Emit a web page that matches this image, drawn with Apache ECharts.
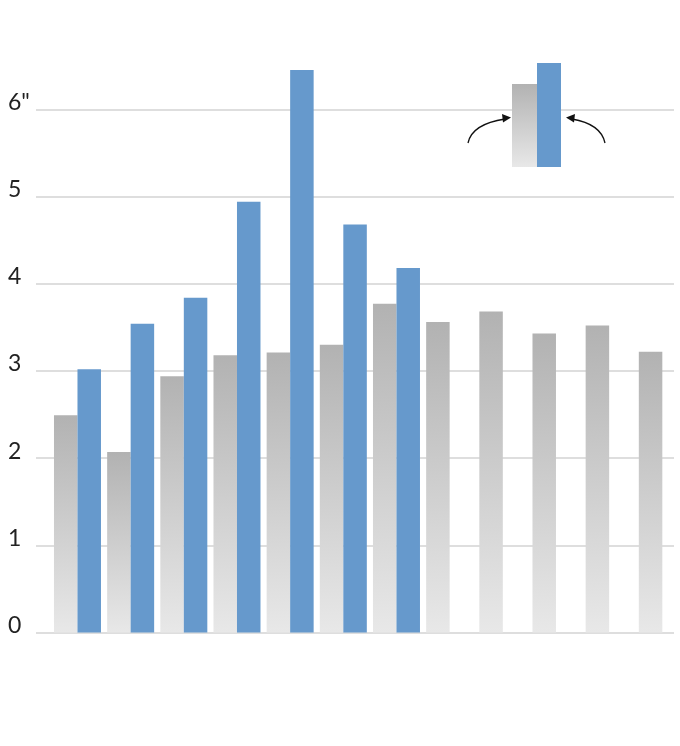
<!DOCTYPE html>
<html>
<head>
<meta charset="utf-8">
<script src="https://cdn.jsdelivr.net/npm/echarts@6/dist/echarts.min.js"></script>
<style>
html,body{margin:0;padding:0;background:#fff;}
#chart{width:680px;height:746px;}
</style>
</head>
<body>
<div id="chart"></div>
<script>
var categories = ['1','2','3','4','5','6','7','8','9','10','11','12'];
var grayValues = [2.49, 2.07, 2.94, 3.18, 3.21, 3.30, 3.77, 3.56, 3.68, 3.43, 3.52, 3.22];
var blueValues = [3.02, 3.54, 3.84, 4.94, 6.45, 4.68, 4.18, null, null, null, null, null];
var spacerValues = [null, null, null, null, null, null, null, null, null, null, null, null];
var yTickLabels = {0:'0', 1:'1', 2:'2', 3:'3', 4:'4', 5:'5', 6:'6"'};

var chart = echarts.init(document.getElementById('chart'), null, {renderer:'canvas'});

function grayGrad(){
  return new echarts.graphic.LinearGradient(0,0,0,1,[
    {offset:0,color:'#b2b2b2'},
    {offset:1,color:'#e8e8e8'}
  ]);
}

var option = {
  backgroundColor:'#ffffff',
  animation:false,
  grid:{left:36, right:6, top:22.1, bottom:113.5, containLabel:false},
  xAxis:{type:'category', data:categories, show:false},
  yAxis:{type:'value', min:0, max:7, interval:1,
     axisLine:{show:false}, axisTick:{show:false},
     axisLabel:{
       showMaxLabel:false,
       align:'left', margin:28, verticalAlign:'bottom',
       lineHeight:14,
       fontFamily:'Lato, "Open Sans", sans-serif', fontSize:23, color:'#222',
       formatter:function(v){ return yTickLabels[v] !== undefined ? yTickLabels[v] : ''; }
     },
     splitLine:{show:true, showMaxLine:false, lineStyle:{color:'#d3d3d3', width:1.6}}
  },
  series:[
    {type:'bar', data:spacerValues, barWidth:29.8, barGap:'0%', itemStyle:{color:'rgba(0,0,0,0)'}, silent:true},
    {type:'bar', data:grayValues, barWidth:23.5, barGap:'0%', itemStyle:{color:grayGrad()}, z:3},
    {type:'bar', data:blueValues, barWidth:23.5, barGap:'0%', itemStyle:{color:'#6699cc'}, z:3}
  ],
  graphic:[
    {type:'rect', shape:{x:512, y:84, width:25, height:83}, style:{fill:grayGrad()}, z:10},
    {type:'rect', shape:{x:537, y:63, width:24, height:104}, style:{fill:'#6699cc'}, z:10},
    {type:'bezierCurve', shape:{x1:468, y1:143, x2:505, y2:119, cpx1:472, cpy1:124}, style:{stroke:'#111', lineWidth:1.3, fill:null}, z:10},
    {type:'polygon', shape:{points:[[511,117.5],[502,114],[503,122.5]]}, style:{fill:'#111'}, z:10},
    {type:'bezierCurve', shape:{x1:605, y1:143, x2:572, y2:119, cpx1:601, cpy1:124}, style:{stroke:'#111', lineWidth:1.3, fill:null}, z:10},
    {type:'polygon', shape:{points:[[566,117.5],[575,114],[574,122.5]]}, style:{fill:'#111'}, z:10}
  ]
};
chart.setOption(option);
</script>
</body>
</html>
